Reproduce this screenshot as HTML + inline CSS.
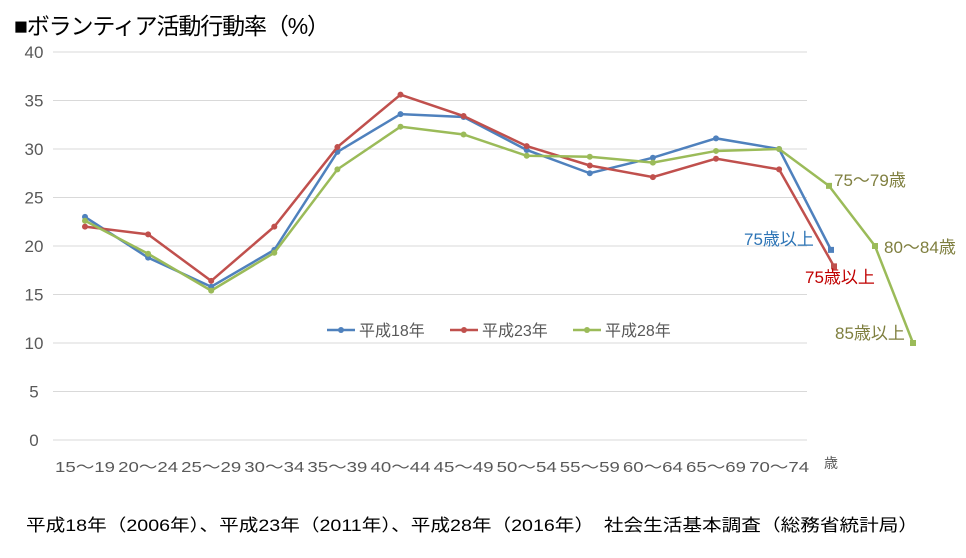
<!DOCTYPE html>
<html><head><meta charset="utf-8"><style>
body{margin:0;background:#fff;width:966px;height:553px;overflow:hidden;font-family:"Liberation Sans","Noto Sans CJK JP",sans-serif}
</style></head><body>
<svg width="966" height="553" font-family="Liberation Sans, Noto Sans CJK JP, sans-serif">
<text x="14" y="34" font-size="23" fill="#000" textLength="316">■ボランティア活動行動率（%）</text>
<g id="grid"></g><g id="yt"></g><g id="xt"></g><g id="series"></g>
<g font-size="16" fill="#595959">
<line x1="327" y1="330" x2="355" y2="330" stroke="#4F81BD" stroke-width="2.5"/><circle cx="341" cy="330" r="3" fill="#4F81BD"/><text x="359" y="336">平成18年</text>
<line x1="450" y1="330" x2="478" y2="330" stroke="#C0504D" stroke-width="2.5"/><circle cx="464" cy="330" r="3" fill="#C0504D"/><text x="482" y="336">平成23年</text>
<line x1="573" y1="330" x2="601" y2="330" stroke="#9BBB59" stroke-width="2.5"/><circle cx="587" cy="330" r="3" fill="#9BBB59"/><text x="605" y="336">平成28年</text>
</g>
<text x="831" y="468" font-size="14" fill="#595959" text-anchor="middle">歳</text>
<text x="744" y="245" font-size="17" fill="#2E75B6">75歳以上</text>
<text x="805" y="283" font-size="17" fill="#C00000">75歳以上</text>
<text x="834" y="186" font-size="17" fill="#7F7F3F">75～79歳</text>
<text x="884" y="253" font-size="17" fill="#7F7F3F">80～84歳</text>
<text x="835" y="339" font-size="17" fill="#7F7F3F">85歳以上</text>
<text x="26" y="531" font-size="17" fill="#000" textLength="892" lengthAdjust="spacingAndGlyphs">平成18年（2006年）、平成23年（2011年）、平成28年（2016年）　社会生活基本調査（総務省統計局）</text>
</svg>
<script>
const categories=["15～19","20～24","25～29","30～34","35～39","40～44","45～49","50～54","55～59","60～64","65～69","70～74"];
const yTicks=[0,5,10,15,20,25,30,35,40];
const h18=[23.0,18.8,15.8,19.6,29.7,33.6,33.3,29.9,27.5,29.1,31.1,30.0];
const h23=[22.0,21.2,16.4,22.0,30.2,35.6,33.4,30.3,28.3,27.1,29.0,27.9];
const h28=[22.6,19.2,15.4,19.3,27.9,32.3,31.5,29.3,29.2,28.6,29.8,30.0];
const h18Old=[19.6];
const h23Old=[17.9];
const h28Old=[26.2,20.0,10.0];
const NS="http://www.w3.org/2000/svg";
const y=v=>440-v*9.7;
const x=i=>85+i*63.1;
const xo=[831,834,829,875,913];
function mk(t,a,p){const e=document.createElementNS(NS,t);for(const k in a)e.setAttribute(k,a[k]);p.appendChild(e);return e;}
const grid=document.getElementById('grid'),yt=document.getElementById('yt'),xt=document.getElementById('xt'),ser=document.getElementById('series');
yTicks.forEach(v=>{
 const l=mk('line',{x1:53,x2:807,y1:y(v),y2:y(v),stroke:'#D9D9D9','stroke-width':1},grid);
 
 
 const t=mk('text',{x:34,y:y(v)+6,'font-size':17,fill:'#595959','text-anchor':'middle'},yt);
 t.textContent=v;
 
 
});
categories.forEach((c,i)=>{
 const t=mk('text',{x:x(i),y:472,'font-size':15,fill:'#595959','text-anchor':'middle',textLength:60,lengthAdjust:'spacingAndGlyphs'},xt);
 t.textContent=c;
 
 
});
function series(name,vals,old,oldX,col){
 const g=mk('g',{},ser);
 
 
 const pts=vals.map((v,i)=>[x(i),y(v)]);
 const ext=old.map((v,i)=>[oldX[i],y(v)]);
 const all=pts.concat(ext);
 const pl=mk('polyline',{points:all.map(p=>p.join(',')).join(' '),fill:'none',stroke:col,'stroke-width':2.5},g);
 
 
 pts.forEach((p,i)=>{const c=mk('circle',{cx:p[0],cy:p[1],r:3,fill:col},g);
  
  });
 ext.forEach((p,i)=>{const r=mk('rect',{x:p[0]-3,y:p[1]-3,width:6,height:6,fill:col},g);
  
  });
}
series('h18',h18,h18Old,[xo[0]],'#4F81BD');
series('h23',h23,h23Old,[xo[1]],'#C0504D');
series('h28',h28,h28Old,[xo[2],xo[3],xo[4]],'#9BBB59');
</script>
</body></html>
